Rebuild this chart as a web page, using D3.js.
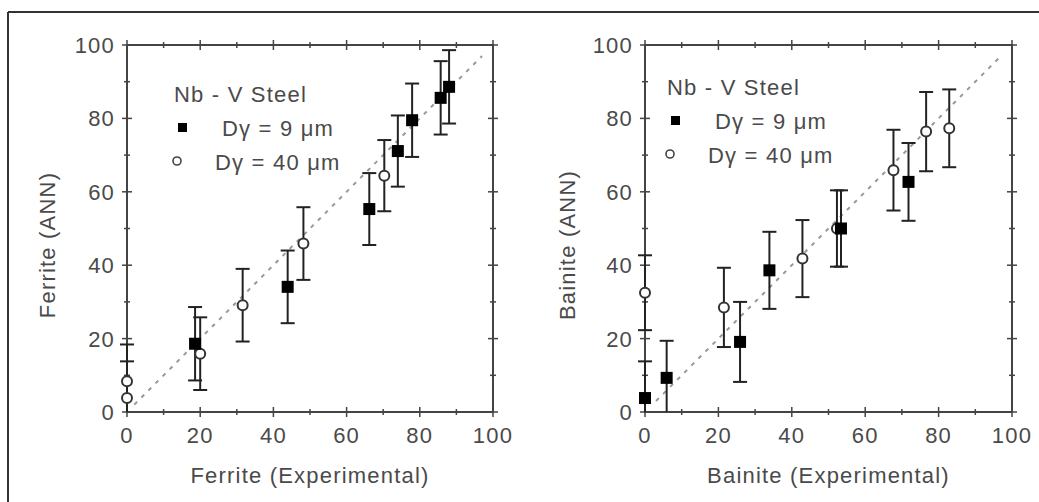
<!DOCTYPE html>
<html>
<head>
<meta charset="utf-8">
<script src="https://cdn.jsdelivr.net/npm/d3@7"></script>
<style>
  body { margin: 0; background: #fff; }
  text { font-family: "Liberation Sans", Arial, sans-serif; }
</style>
</head>
<body>
<script>
// tick values shared by both panels
const majorTicks = [0, 20, 40, 60, 80, 100];
const minorTicks = [10, 30, 50, 70, 90];

// ferrite panel
const ferriteFilledX = [18.6, 43.9, 66.2, 74, 77.9, 85.7, 88];
const ferriteFilledY = [18.6, 34.1, 55.3, 71.1, 79.5, 85.6, 88.6];
const ferriteFilledErr = [10, 9.9, 9.8, 9.7, 10, 10, 10];
const ferriteOpenX = [0, 0, 20, 31.6, 48.2, 70.3];
const ferriteOpenY = [3.8, 8.4, 15.9, 29.1, 45.9, 64.4];
const ferriteOpenErr = [10, 10, 9.9, 9.9, 9.9, 9.7];

// bainite panel
const bainiteFilledX = [0, 5.9, 25.9, 33.9, 53.4, 71.8];
const bainiteFilledY = [3.8, 9.3, 19.1, 38.6, 50, 62.7];
const bainiteFilledErr = [10, 10.1, 10.9, 10.5, 10.4, 10.6];
const bainiteOpenX = [0, 21.5, 42.9, 52.3, 67.7, 76.6, 82.9];
const bainiteOpenY = [32.5, 28.5, 41.8, 50, 65.9, 76.4, 77.3];
const bainiteOpenErr = [10.2, 10.8, 10.5, 10.4, 11, 10.8, 10.6];

const legendTitle = "Nb - V Steel";
const legendLabels = ["D\u03b3 = 9  \u03bcm", "D\u03b3 = 40 \u03bcm"];

const W = 1039, H = 502;
const svg = d3.select("body").append("svg").attr("width", W).attr("height", H);

// frame (only top and left edges visible)
svg.append("line").attr("x1", 8).attr("x2", W).attr("y1", 12).attr("y2", 12)
  .attr("stroke", "#333").attr("stroke-width", 2);
svg.append("line").attr("x1", 8).attr("x2", 8).attr("y1", 12).attr("y2", H)
  .attr("stroke", "#333").attr("stroke-width", 2);

const axisColor = "#444";
const textColor = "#4a4a4a";
const fontSize = 22;

function zip(xs, ys, es) {
  return xs.map((x, i) => ({ x: x, y: ys[i], e: es[i] }));
}

function drawPanel(opt) {
  const x = d3.scaleLinear().domain([0, 100]).range([opt.left, opt.right]);
  const y = d3.scaleLinear().domain([0, 100]).range([412, 45]);
  const g = svg.append("g");

  // frame box
  g.append("rect").attr("x", x(0)).attr("y", y(100))
    .attr("width", x(100) - x(0)).attr("height", y(0) - y(100))
    .attr("fill", "none").attr("stroke", axisColor).attr("stroke-width", 2);

  // crossing ticks on all four sides
  const tk = [];
  majorTicks.forEach(t => tk.push({ t: t, len: 5 }));
  minorTicks.forEach(t => tk.push({ t: t, len: 3 }));
  tk.forEach(d => {
    [y(0), y(100)].forEach(yy => {
      g.append("line").attr("x1", x(d.t)).attr("x2", x(d.t))
        .attr("y1", yy - d.len).attr("y2", yy + d.len)
        .attr("stroke", axisColor).attr("stroke-width", 1.5);
    });
    [x(0), x(100)].forEach(xx => {
      g.append("line").attr("y1", y(d.t)).attr("y2", y(d.t))
        .attr("x1", xx - d.len).attr("x2", xx + d.len)
        .attr("stroke", axisColor).attr("stroke-width", 1.5);
    });
  });

  // tick labels
  g.selectAll(".xl").data(majorTicks).enter().append("text")
    .attr("x", d => x(d)).attr("y", y(0) + 31)
    .attr("text-anchor", "middle").attr("font-size", fontSize)
    .attr("letter-spacing", 1.2).attr("fill", textColor).text(d => d);
  g.selectAll(".yl").data(majorTicks).enter().append("text")
    .attr("x", x(0) - 12).attr("y", d => y(d)).attr("dy", "0.36em")
    .attr("text-anchor", "end").attr("font-size", fontSize)
    .attr("letter-spacing", 1.2).attr("fill", textColor).text(d => d);

  // axis titles
  g.append("text").attr("x", (x(0) + x(100)) / 2).attr("y", 483)
    .attr("text-anchor", "middle").attr("font-size", fontSize)
    .attr("letter-spacing", 1.2).attr("fill", textColor).text(opt.xTitle);
  g.append("text")
    .attr("transform", `translate(${opt.yTitleX},245) rotate(-90)`)
    .attr("dy", "0.36em").attr("text-anchor", "middle").attr("font-size", fontSize)
    .attr("letter-spacing", 1.2).attr("fill", textColor).text(opt.yTitle);

  // y = x reference line
  g.append("line")
    .attr("x1", x(opt.diagStart)).attr("y1", y(opt.diagStart))
    .attr("x2", x(97)).attr("y2", y(97))
    .attr("stroke", "#999").attr("stroke-width", 2).attr("stroke-dasharray", "4,6");

  const all = opt.open.concat(opt.filled);
  // error bars
  all.forEach(d => {
    const lo = Math.max(0, d.y - d.e), hi = d.y + d.e;
    g.append("line").attr("x1", x(d.x)).attr("x2", x(d.x))
      .attr("y1", y(lo)).attr("y2", y(hi))
      .attr("stroke", "#222").attr("stroke-width", 2);
    g.append("line").attr("x1", x(d.x) - 7).attr("x2", x(d.x) + 7)
      .attr("y1", y(hi)).attr("y2", y(hi))
      .attr("stroke", "#222").attr("stroke-width", 2);
    if (d.y - d.e > 0) {
      g.append("line").attr("x1", x(d.x) - 7).attr("x2", x(d.x) + 7)
        .attr("y1", y(lo)).attr("y2", y(lo))
        .attr("stroke", "#222").attr("stroke-width", 2);
    }
  });

  g.selectAll(".op").data(opt.open).enter().append("circle")
    .attr("cx", d => x(d.x)).attr("cy", d => y(d.y)).attr("r", 5)
    .attr("fill", "#fff").attr("stroke", "#333").attr("stroke-width", 2);
  g.selectAll(".fl").data(opt.filled).enter().append("rect")
    .attr("x", d => x(d.x) - 6).attr("y", d => y(d.y) - 6)
    .attr("width", 12).attr("height", 12).attr("fill", "#000");

  // legend
  const lg = opt.legend;
  g.append("text").attr("x", lg.x).attr("y", lg.y)
    .attr("font-size", fontSize).attr("letter-spacing", 1.2)
    .attr("fill", textColor).text(legendTitle);
  g.append("rect").attr("x", lg.x + 4).attr("y", lg.y + 21)
    .attr("width", 9).attr("height", 9).attr("fill", "#000");
  g.append("text").attr("x", lg.x + 48).attr("y", lg.y + 34)
    .attr("font-size", fontSize).attr("letter-spacing", 1.2)
    .attr("fill", textColor).text(legendLabels[0]);
  g.append("circle").attr("cx", lg.x + 3).attr("cy", lg.y + 59).attr("r", 4)
    .attr("fill", "#fff").attr("stroke", "#444").attr("stroke-width", 1.6);
  g.append("text").attr("x", lg.x + 41).attr("y", lg.y + 68)
    .attr("font-size", fontSize).attr("letter-spacing", 1.2)
    .attr("fill", textColor).text(legendLabels[1]);
}

drawPanel({
  left: 127, right: 493, yTitleX: 47, diagStart: 2,
  xTitle: "Ferrite (Experimental)", yTitle: "Ferrite (ANN)",
  filled: zip(ferriteFilledX, ferriteFilledY, ferriteFilledErr),
  open: zip(ferriteOpenX, ferriteOpenY, ferriteOpenErr),
  legend: { x: 174, y: 102 }
});

drawPanel({
  left: 645, right: 1012, yTitleX: 567, diagStart: 3,
  xTitle: "Bainite (Experimental)", yTitle: "Bainite (ANN)",
  filled: zip(bainiteFilledX, bainiteFilledY, bainiteFilledErr),
  open: zip(bainiteOpenX, bainiteOpenY, bainiteOpenErr),
  legend: { x: 667, y: 95 }
});
</script>
</body>
</html>
